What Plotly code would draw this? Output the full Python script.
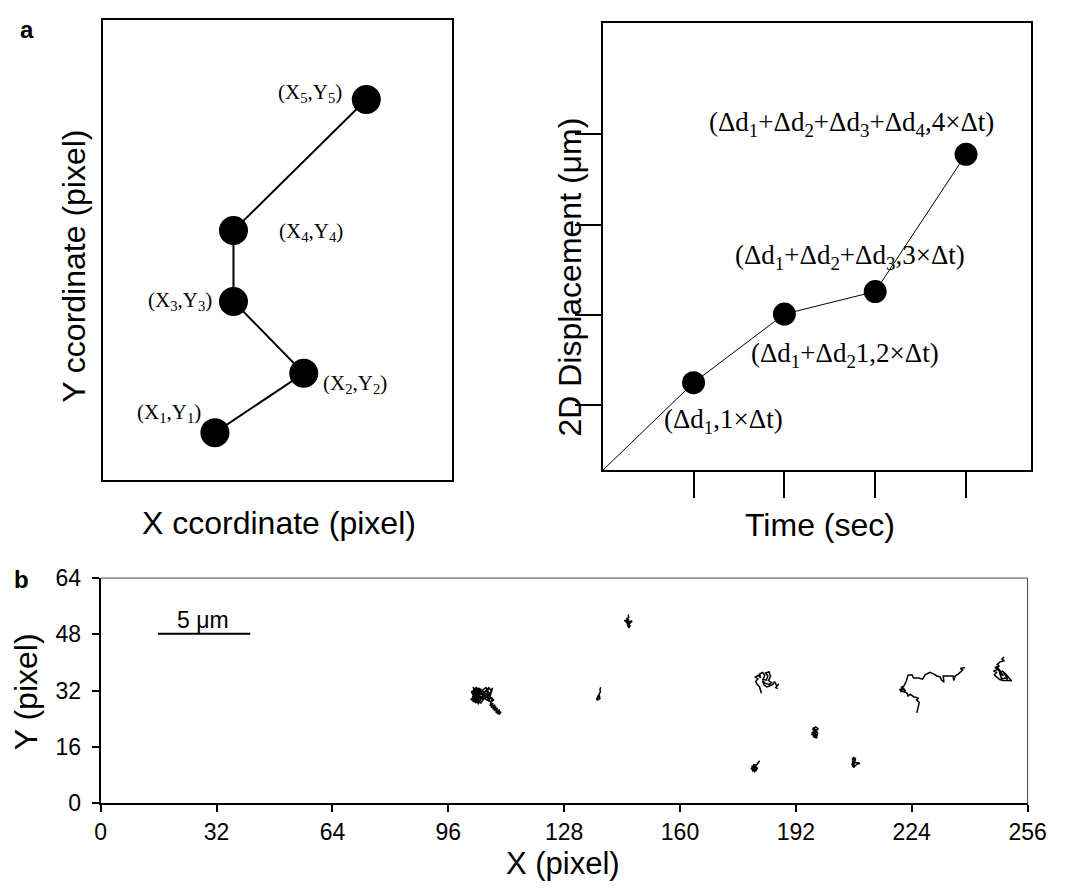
import plotly.graph_objects as go

W, H = 1071, 895
SANS = "Liberation Sans, Arial, sans-serif"
SERIF = "Liberation Serif, Times New Roman, serif"

# ---------------- Panel a (left): particle positions ----------------
pos_x = [32.1, 57.5, 37.4, 37.4, 75.4]
pos_y = [10.3, 23.2, 38.8, 54.2, 82.7]
pos_labels = ["(X<sub>1</sub>,Y<sub>1</sub>)", "(X<sub>2</sub>,Y<sub>2</sub>)",
              "(X<sub>3</sub>,Y<sub>3</sub>)", "(X<sub>4</sub>,Y<sub>4</sub>)",
              "(X<sub>5</sub>,Y<sub>5</sub>)"]

# ---------------- Panel a (right): displacement vs time ----------------
time_steps = [0, 1, 2, 3, 4]
displacement = [0, 0.97, 1.73, 1.98, 3.50]
time_ticks = [1, 2, 3, 4]
disp_ticks = [0.72, 1.72, 2.72, 3.72]
disp_labels = ["(Δd<sub>1</sub>,1×Δt)",
               "(Δd<sub>1</sub>+Δd<sub>2</sub>1,2×Δt)",
               "(Δd<sub>1</sub>+Δd<sub>2</sub>+Δd<sub>3</sub>,3×Δt)",
               "(Δd<sub>1</sub>+Δd<sub>2</sub>+Δd<sub>3</sub>+Δd<sub>4</sub>,4×Δt)"]

# ---------------- Panel b: trajectories (pixel coords) ----------------
xb_ticks = [0, 32, 64, 96, 128, 160, 192, 224, 256]
yb_ticks = [0, 16, 32, 48, 64]
scalebar_x = [15.8, 41.3]
scalebar_y = [48.2, 48.2]

c1x = [103.0, 103.9, 102.6, 103.4, 104.3, 103.1, 102.5, 103.8, 104.7, 105.3,
       104.2, 103.3, 102.7, 103.6, 104.5, 105.5, 106.0, 105.2, 106.4, 107.0,
       106.1, 105.7, 106.7, 107.3, 106.2,
       104.6, 103.8, 102.9, 103.5, 102.4, 103.1, 104.2, 103.4, 102.6, 103.9,
       104.8, 103.7, 102.8, 103.3, 104.5, 105.2, 104.1, 103.0, 102.5, 103.6,
       104.9, 104.3, 103.2, 104.0, 105.0, 104.7, 103.8, 104.6, 105.4, 106.3,
       107.1, 106.5, 107.6, 108.2, 107.4, 106.8, 107.9, 108.5, 107.7, 106.6,
       105.9, 105.1, 104.4, 103.6, 102.7, 103.2, 102.3, 103.0, 103.9, 104.7,
       105.6, 106.2, 105.3, 104.5, 103.4, 102.8, 103.7, 104.3, 105.0, 105.8,
       106.9, 107.5, 106.4, 107.2, 108.0, 107.3, 108.1, 107.5, 108.4, 107.8,
       108.9, 108.3, 109.2, 108.7, 109.6, 109.1, 110.2, 109.5, 110.6, 109.9,
       110.4, 109.7]
c1y = [29.0, 28.7, 29.8, 30.6, 29.6, 30.9, 31.8, 32.6, 32.0, 31.2,
       31.0, 32.2, 31.4, 30.2, 30.6, 30.0, 31.2, 32.0, 32.9, 31.8,
       30.5, 29.5, 30.3, 29.0, 29.7,
       31.8, 32.9, 32.1, 31.2, 31.6, 30.4, 30.9, 29.7, 30.2, 29.1,
       30.0, 31.3, 33.0, 32.4, 32.7, 31.5, 30.6, 31.0, 29.5, 28.6,
       29.3, 28.3, 29.9, 31.8, 32.5, 30.8, 29.8, 29.0, 30.3, 31.9,
       32.6, 30.7, 31.4, 32.8, 29.9, 29.2, 30.1, 29.4, 28.7, 30.9,
       31.6, 32.3, 31.9, 32.8, 31.4, 30.1, 29.6, 28.9, 29.6, 30.5,
       29.4, 30.4, 31.1, 31.6, 30.8, 31.7, 32.2, 29.2, 28.5, 29.9,
       30.3, 31.2, 32.1, 32.9, 31.8, 30.5, 29.6, 27.8, 28.4, 27.2,
       28.0, 26.7, 27.5, 26.3, 27.1, 25.8, 26.6, 25.4, 26.0, 25.2,
       25.7, 26.4]

c2x = [138.1, 137.9, 138.0, 137.6, 137.8, 137.2, 137.5, 137.9, 137.4, 137.0, 137.3]
c2y = [33.0, 32.3, 31.6, 31.0, 30.4, 30.0, 29.5, 29.8, 30.6, 29.7, 29.3]

c3x = [145.7, 145.8, 145.2, 145.9, 144.6, 145.6, 146.8, 145.9, 145.4, 146.2, 145.8, 145.5, 146.0, 145.3, 145.6,
       145.9, 145.1, 146.4, 145.7]
c3y = [53.6, 52.8, 52.5, 52.2, 51.9, 51.6, 51.8, 51.2, 50.7, 50.4, 49.9, 50.9, 51.5, 51.9, 52.4,
       51.0, 51.4, 51.6, 50.2]

c4x = [182.5, 182.2, 181.9, 181.3, 180.9, 181.5, 180.8, 181.6, 182.3, 182.0, 182.8, 183.4, 182.9, 183.8, 184.3,
       183.6, 184.6, 185.0, 184.4, 185.3, 184.7, 183.5, 182.8, 183.2, 184.0, 185.6, 186.1, 186.7, 187.3, 186.4,
       187.0]
c4y = [31.3, 32.2, 33.2, 33.8, 34.6, 35.4, 35.9, 36.4, 35.6, 36.8, 37.2, 36.3, 35.2, 35.0, 36.2,
       37.0, 37.4, 36.0, 34.9, 34.3, 33.8, 34.1, 34.8, 33.6, 33.1, 33.7, 34.6, 33.4, 33.9, 32.9,
       32.6]

c5x = [182.0, 181.6, 181.2, 180.6, 180.0, 180.8, 179.8, 180.6, 181.3, 180.2, 181.0, 179.6, 180.4, 181.1, 180.1,
       180.9, 180.3, 181.2, 179.9, 180.7]
c5y = [12.1, 11.6, 11.0, 10.6, 9.3, 10.1, 10.6, 9.0, 9.8, 11.0, 10.9, 9.8, 9.6, 9.2, 10.3,
       9.5, 10.8, 10.2, 9.1, 9.7]

c6x = [196.2, 196.8, 197.2, 196.8, 197.8, 197.0, 197.9, 196.6, 197.5, 198.1, 197.3, 196.9, 197.7, 198.0, 197.4,
       196.7, 197.6, 197.1, 197.9, 196.5, 197.6]
c6y = [19.6, 19.4, 18.7, 19.5, 19.2, 20.3, 20.6, 21.0, 21.7, 21.2, 20.0, 18.9, 18.6, 19.9, 20.9,
       21.5, 20.4, 19.3, 21.0, 20.1, 18.9]

c7x = [207.8, 207.5, 208.2, 207.6, 208.0, 208.4, 207.9, 208.8, 209.7, 208.9, 208.3, 207.7, 208.1,
       207.6, 208.5, 207.9]
c7y = [10.3, 11.2, 11.9, 12.6, 13.0, 12.2, 11.5, 11.6, 11.4, 11.1, 10.6, 10.9, 10.1,
       12.0, 12.9, 10.5]

c8x = [225.4, 225.7, 226.1, 225.3, 225.9, 224.5, 223.6, 223.0, 222.7, 221.4, 220.6, 221.9, 220.9, 222.3, 221.2,
       221.8, 222.5, 223.0, 224.1, 224.5, 225.9, 227.0, 227.7, 229.0, 230.0, 230.9, 231.8, 232.2, 232.9, 232.7,
       234.5, 235.4, 235.6, 236.0, 236.9, 237.6, 238.1, 237.4, 238.7]
c8y = [25.7, 27.3, 28.7, 29.4, 29.9, 30.3, 31.0, 30.5, 31.3, 31.9, 32.3, 32.8, 31.7, 32.0, 33.0,
       33.3, 34.7, 36.5, 36.5, 35.6, 35.6, 35.3, 36.5, 37.2, 36.8, 36.2, 36.0, 35.1, 34.4, 36.2,
       36.2, 36.2, 34.9, 36.2, 36.8, 37.4, 37.9, 38.3, 38.6]

c9x = [249.5, 248.9, 249.6, 248.4, 247.6, 248.2, 247.0, 247.8, 246.6, 247.4, 246.8, 247.5, 248.3, 249.2, 250.3,
       251.6, 250.8, 249.9, 249.0, 248.4, 249.3, 248.1, 247.3, 247.9, 248.8, 249.7, 250.5, 249.4]
c9y = [41.6, 41.0, 40.5, 40.2, 39.5, 39.0, 38.6, 38.0, 37.6, 37.2, 36.5, 35.8, 35.2, 34.9, 35.0,
       34.8, 35.9, 36.8, 37.6, 36.7, 36.3, 38.1, 38.9, 38.4, 35.4, 35.6, 35.3, 37.1]

tracks = [(c1x, c1y), (c2x, c2y), (c3x, c3y), (c4x, c4y), (c5x, c5y),
          (c6x, c6y), (c7x, c7y), (c8x, c8y), (c9x, c9y)]


def px(x):
    return x / W


def py(y):
    return 1 - y / H


fig = go.Figure()

# left panel
fig.add_trace(go.Scatter(x=pos_x, y=pos_y, mode="lines+markers",
                         line=dict(color="black", width=2),
                         marker=dict(color="black", size=29),
                         xaxis="x", yaxis="y", showlegend=False, hoverinfo="skip"))

# right panel
fig.add_trace(go.Scatter(x=time_steps, y=displacement, mode="lines",
                         line=dict(color="black", width=1),
                         xaxis="x2", yaxis="y2", showlegend=False, hoverinfo="skip"))
fig.add_trace(go.Scatter(x=time_steps[1:], y=displacement[1:], mode="markers",
                         marker=dict(color="black", size=23),
                         xaxis="x2", yaxis="y2", showlegend=False, hoverinfo="skip"))

# panel b
for tx, ty in tracks:
    fig.add_trace(go.Scatter(x=tx, y=ty, mode="lines",
                             line=dict(color="black", width=1.5),
                             xaxis="x3", yaxis="y3", showlegend=False, hoverinfo="skip"))
fig.add_trace(go.Scatter(x=scalebar_x, y=scalebar_y, mode="lines",
                         line=dict(color="black", width=2),
                         xaxis="x3", yaxis="y3", showlegend=False, hoverinfo="skip"))

box = dict(showline=True, linecolor="black", linewidth=2, mirror=True,
           showgrid=False, zeroline=False)

fig.update_layout(
    width=W, height=H,
    margin=dict(l=0, r=0, t=0, b=0),
    paper_bgcolor="white", plot_bgcolor="white",
    showlegend=False,
    xaxis=dict(domain=[px(99), px(457)], range=[0, 100], showticklabels=False, ticks="",
               anchor="y", **box),
    yaxis=dict(domain=[py(481), py(7)], range=[0, 100], showticklabels=False, ticks="",
               anchor="x", **box),
    xaxis2=dict(domain=[px(611), px(1049)], range=[0, 4.71], tickvals=time_ticks,
                ticks="outside", ticklen=26, tickwidth=2, tickcolor="black",
                showticklabels=False, anchor="y2", **box),
    yaxis2=dict(domain=[py(471), py(10)], range=[0, 4.957], tickvals=disp_ticks,
                ticks="outside", ticklen=26, tickwidth=2, tickcolor="black",
                showticklabels=False, anchor="x2", **box),
    xaxis3=dict(domain=[px(97), px(1046)], range=[0, 256], tickvals=xb_ticks,
                ticks="outside", ticklen=7, tickwidth=1.5, tickcolor="black",
                ticklabelstandoff=0,
                tickfont=dict(family=SANS, size=23, color="black"),
                showline=True, linecolor="black", linewidth=2, showgrid=False,
                zeroline=False, anchor="y3"),
    yaxis3=dict(domain=[py(814), py(582)], range=[0, 64], tickvals=yb_ticks,
                ticks="outside", ticklen=7, tickwidth=1.5, tickcolor="black",
                ticklabelstandoff=6,
                tickfont=dict(family=SANS, size=23, color="black"),
                showline=True, linecolor="black", linewidth=2, showgrid=False,
                zeroline=False, anchor="x3"),
)

# thin top / right frame of panel b
fig.add_shape(type="line", xref="x3 domain", yref="y3 domain", x0=0, x1=1, y0=1, y1=1,
              line=dict(color="#444", width=1))
fig.add_shape(type="line", xref="x3 domain", yref="y3 domain", x0=1, x1=1, y0=0, y1=1,
              line=dict(color="#444", width=1))

ann = []


def text(x, y, s, size, family=SANS, angle=0, bold=False, yanchor="middle"):
    ann.append(dict(x=px(x), y=py(y), xref="paper", yref="paper",
                    text=("<b>%s</b>" % s) if bold else s,
                    showarrow=False, xanchor="center", yanchor=yanchor, textangle=angle,
                    borderpad=0,
                    font=dict(family=family, size=size, color="black")))


# left labels
left_label_px = [(167, 412), (357, 382), (178, 297), (312, 226), (311, 82)]
for (lx, ly), s in zip(left_label_px, pos_labels):
    text(lx, ly, s, 21, SERIF)

# right labels
right_label_px = [(735, 420), (859, 352), (864, 251), (866, 114)]
for (lx, ly), s in zip(right_label_px, disp_labels):
    text(lx, ly, s, 27, SERIF)

# axis titles and panel letters
text(70, 261, "Y ccordinate (pixel)", 32, angle=-90)
text(280, 525, "X ccordinate (pixel)", 32)
text(578, 272, "2D Displacement (μm)", 32, angle=-90)
text(833, 527, "Time (sec)", 32)
text(20, 699, "Y (pixel)", 32, angle=-90)
text(570, 895, "X (pixel)", 31, yanchor="bottom")
text(22, 17, "a", 24, bold=True)
text(16, 583, "b", 24, bold=True)

# scale bar label (data coordinates)
ann.append(dict(x=28.3, y=52.2, xref="x3", yref="y3", text="5 μm", showarrow=False,
                xanchor="center", yanchor="middle",
                font=dict(family=SANS, size=23, color="black")))

fig.update_layout(annotations=ann)

fig.write_html("out.html")
